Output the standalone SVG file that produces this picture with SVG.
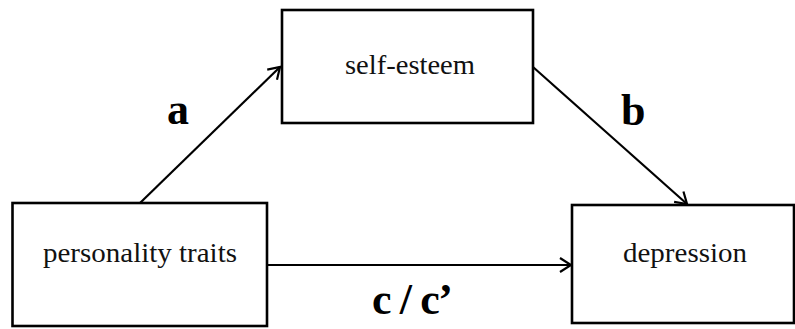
<svg xmlns="http://www.w3.org/2000/svg" width="795" height="329" viewBox="0 0 795 329">
<style>
.box{fill:#fff;stroke:#000;stroke-width:2.6}
.lbl{font-family:"Liberation Serif","Times New Roman",serif;font-size:28px;fill:#111;text-anchor:middle}
.coef{font-family:"Liberation Serif","Times New Roman",serif;font-size:44px;font-weight:bold;fill:#000}
.edge{stroke:#000;stroke-width:2.2;fill:none;marker-end:url(#arr)}
</style>
<defs>
<marker id="arr" viewBox="0 0 20 20" refX="18" refY="10" markerWidth="20" markerHeight="20" markerUnits="userSpaceOnUse" orient="auto">
<polyline points="7,3 18,10 7,17" fill="none" stroke="#000" stroke-width="2.2"/>
</marker>
</defs>
<rect width="795" height="329" fill="#fff"/>
<g id="connectors">
<line class="edge" x1="140" y1="203" x2="280" y2="67"/>
<line class="edge" x1="533" y1="67" x2="687" y2="204"/>
<line class="edge" x1="267" y1="265" x2="571" y2="265"/>
</g>
<g id="self-esteem">
<rect class="box" x="282" y="10" width="251" height="113"/>
<text class="lbl" x="410" y="74" textLength="130" lengthAdjust="spacingAndGlyphs">self-esteem</text>
</g>
<g id="personality-traits">
<rect class="box" x="12.5" y="203" width="254.5" height="123"/>
<text class="lbl" x="140" y="262" textLength="194" lengthAdjust="spacingAndGlyphs">personality traits</text>
</g>
<g id="depression">
<rect class="box" x="572" y="205" width="222" height="118"/>
<text class="lbl" x="685" y="262" textLength="124" lengthAdjust="spacingAndGlyphs">depression</text>
</g>
<g id="labels">
<text class="coef" x="167" y="124">a</text>
<text class="coef" x="621" y="125">b</text>
<text class="coef" x="372" y="314" textLength="81" lengthAdjust="spacing">c / c’</text>
</g>
</svg>
